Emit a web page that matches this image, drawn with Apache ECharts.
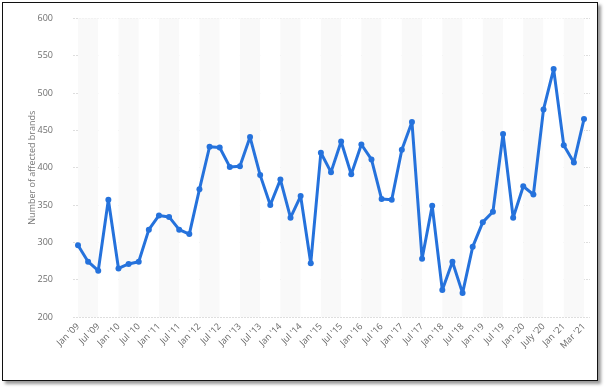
<!DOCTYPE html>
<html>
<head>
<meta charset="utf-8">
<script src="https://cdn.jsdelivr.net/npm/echarts@6/dist/echarts.min.js"></script>
<style>
html,body{margin:0;padding:0;background:#fff;}
#frame{position:absolute;left:2px;top:2px;width:594px;height:377px;border:1.5px solid #111;box-shadow:3px 3px 3px #999;background:#fff;}
#chart{position:absolute;left:0;top:0;width:607px;height:388px;}
</style>
</head>
<body>
<div id="frame"></div>
<div id="chart"></div>
<script>
const categories = [
  "Jan '09","Apr '09","Jul '09","Oct '09",
  "Jan '10","Apr '10","Jul '10","Oct '10",
  "Jan '11","Apr '11","Jul '11","Oct '11",
  "Jan '12","Apr '12","Jul '12","Oct '12",
  "Jan '13","Apr '13","Jul '13","Oct '13",
  "Jan '14","Apr '14","Jul '14","Oct '14",
  "Jan '15","Apr '15","Jul '15","Oct '15",
  "Jan '16","Apr '16","Jul '16","Oct '16",
  "Jan '17","Apr '17","Jul '17","Oct '17",
  "Jan '18","Apr '18","Jul '18","Oct '18",
  "Jan '19","Apr '19","Jul '19","Oct '19",
  "Jan '20","Apr '20","July '20","Oct '20",
  "Jan '21","Feb '21","Mar '21"
];
const affectedBrands = [
  296, 274, 262, 357,
  265, 271, 274, 317,
  336, 334, 317, 311,
  371, 428, 427, 401,
  402, 441, 390, 350,
  384, 333, 362, 272,
  420, 394, 435, 391,
  431, 411, 358, 357,
  424, 461, 278, 349,
  236, 274, 232, 294,
  327, 341, 445, 333,
  375, 364, 478, 532,
  430, 407, 465
];
const yMin = 200, yMax = 600, yStep = 50;
const yAxisTitle = "Number of affected brands";

const chart = echarts.init(document.getElementById('chart'), null, {renderer: 'canvas'});
const font = "'Open Sans', sans-serif";
chart.setOption({
  backgroundColor: 'transparent',
  animation: false,
  grid: [
    {left: 73, right: 17, top: 18.3, bottom: 71},
    {left: 78, right: 23, top: 18.3, bottom: 71}
  ],
  xAxis: [
    {gridIndex: 0, type: 'value', show: false, min: 0, max: 1},
    {
      gridIndex: 1, type: 'category', data: categories, boundaryGap: false,
      axisLine: {show: false}, axisTick: {show: false},
      axisLabel: {interval: 1, rotate: 45, fontSize: 9, color: '#666', fontFamily: font, margin: 8},
      splitLine: {show: false},
      splitArea: {show: true, interval: 1, areaStyle: {color: ['#f9f9f9', '#ffffff']}}
    }
  ],
  yAxis: [
    {
      gridIndex: 0, type: 'value', min: yMin, max: yMax, interval: yStep,
      name: yAxisTitle, nameLocation: 'middle', nameGap: 36, nameMoveOverlap: false,
      nameTextStyle: {fontSize: 9, color: '#777', fontFamily: font},
      axisLine: {show: false}, axisTick: {show: false},
      axisLabel: {fontSize: 9, color: '#6f6f6f', fontFamily: font, margin: 20},
      splitLine: {lineStyle: {color: '#dedede', type: [2, 1], width: 1}}
    },
    {gridIndex: 1, type: 'value', min: yMin, max: yMax, interval: yStep, show: false, splitLine: {show: false}}
  ],
  series: [{
    type: 'line', xAxisIndex: 1, yAxisIndex: 1, data: affectedBrands,
    symbol: 'circle', symbolSize: 6, showAllSymbol: true,
    lineStyle: {color: '#2572dc', width: 3},
    itemStyle: {color: '#2572dc'},
    z: 5
  }]
});
</script>
</body>
</html>
